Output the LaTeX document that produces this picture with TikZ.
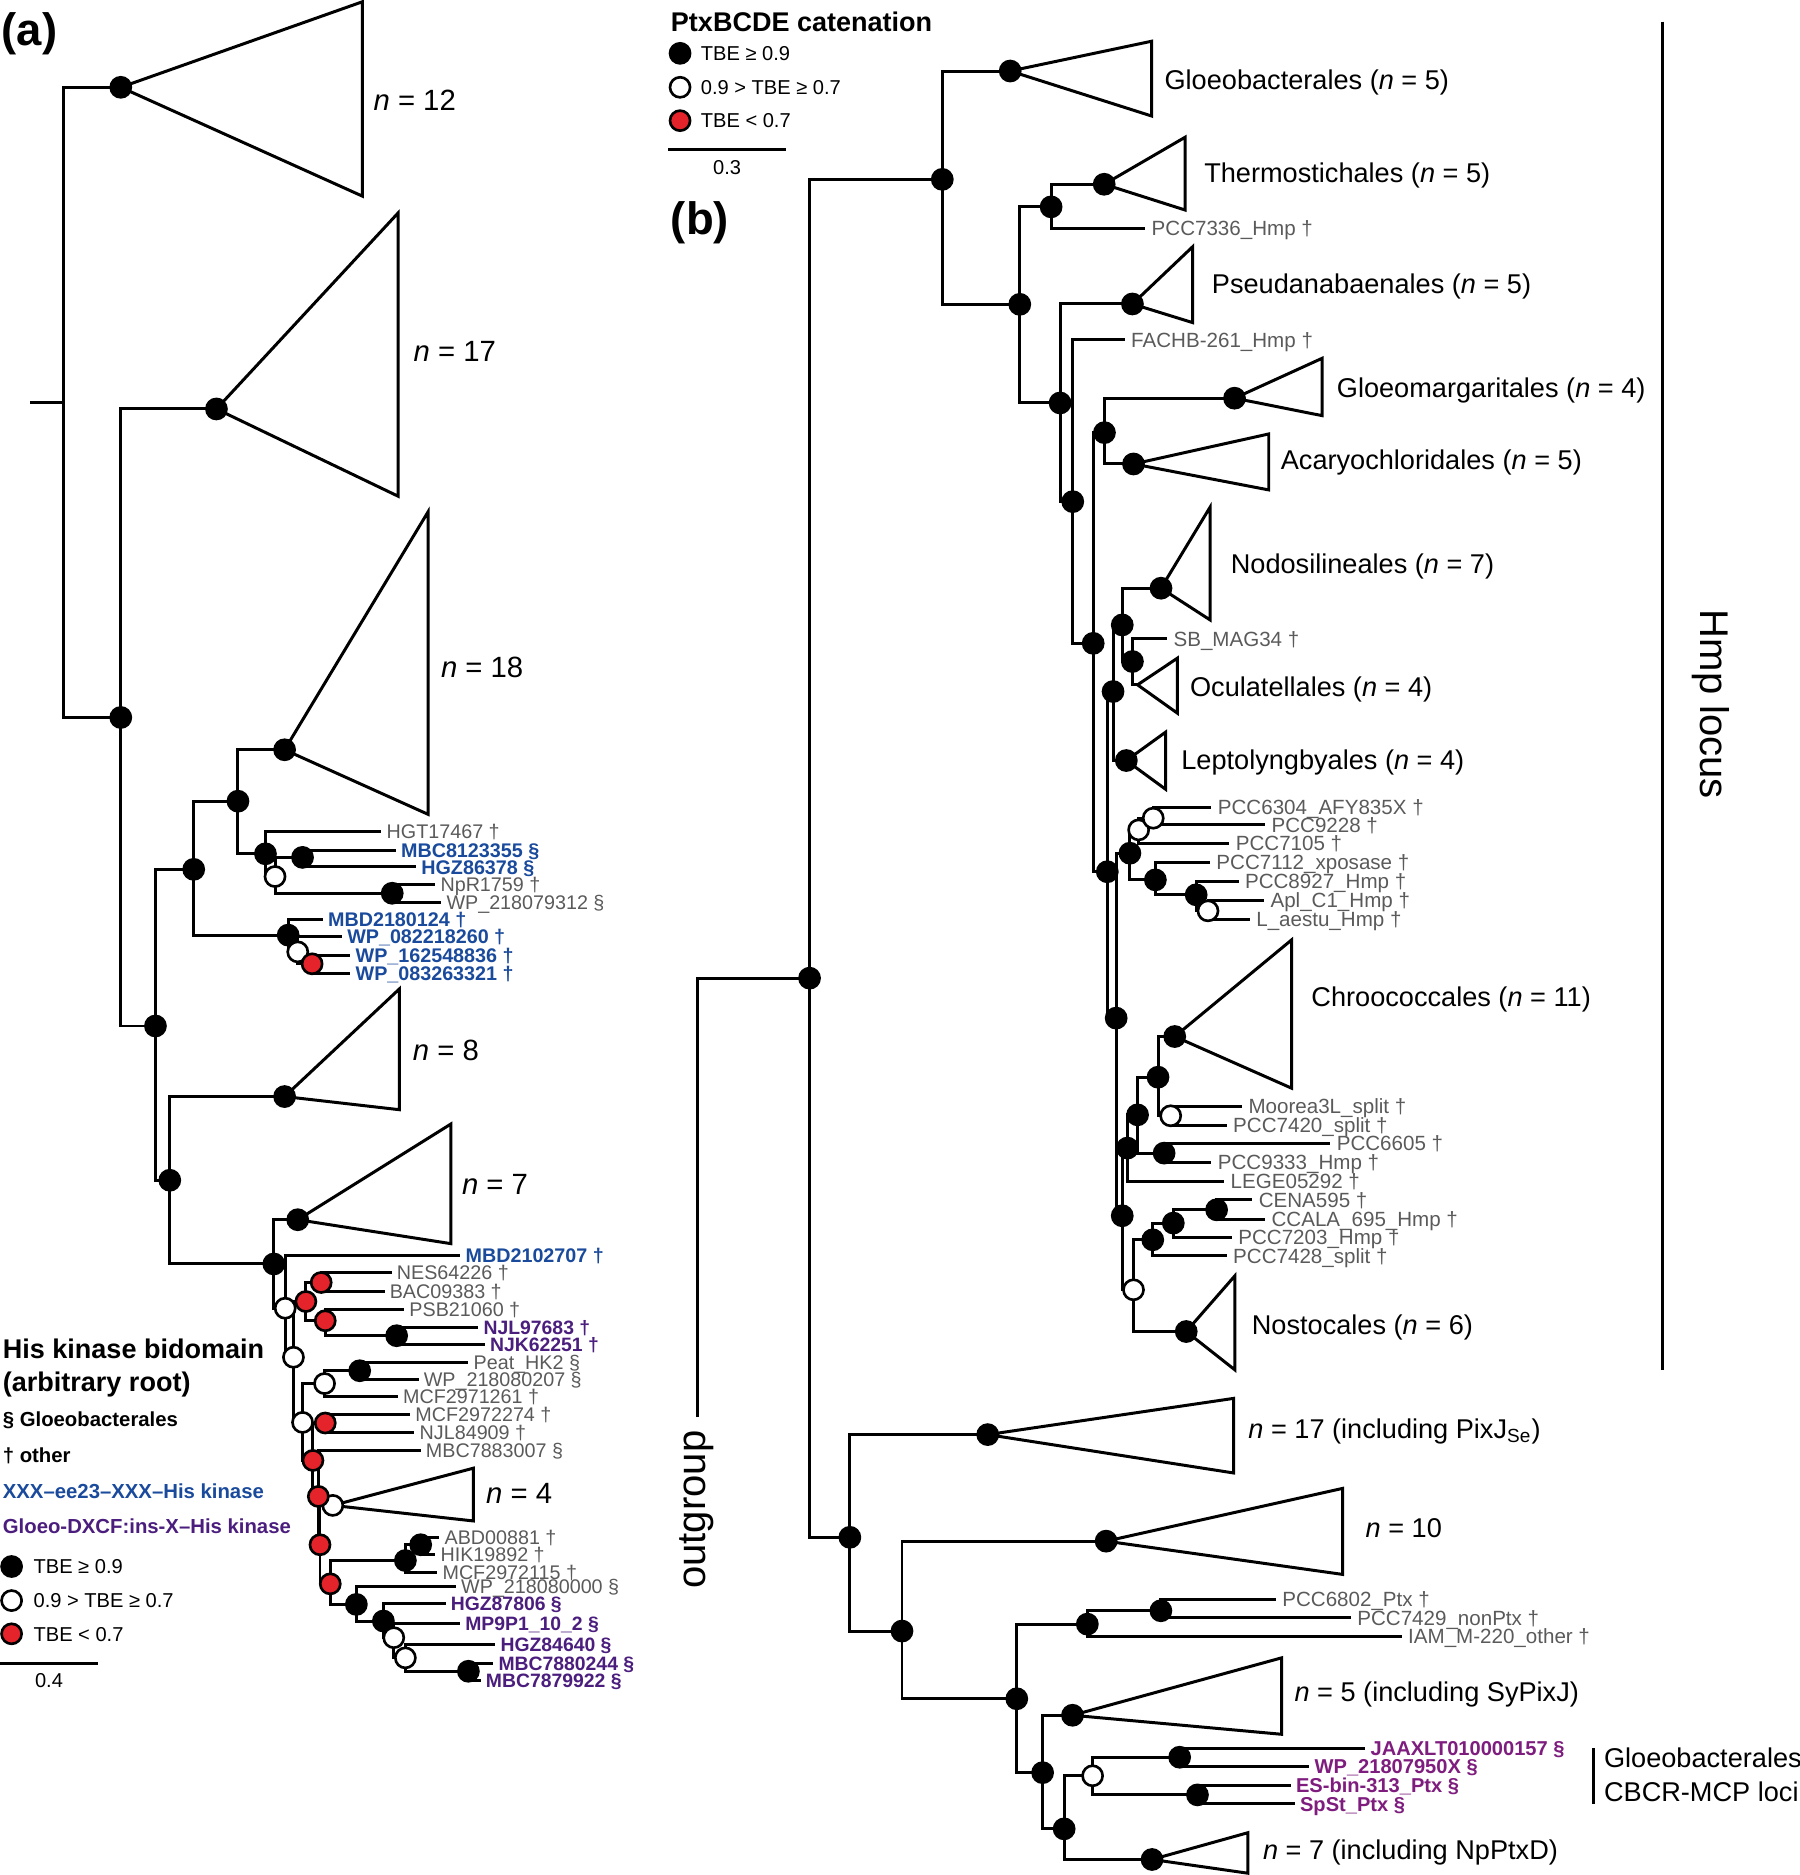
\documentclass[tikz,border=0pt]{standalone}
\usepackage{fontspec}
\setmainfont{Liberation Sans}
\definecolor{ablue}{HTML}{1A4A9C}
\definecolor{apurple}{HTML}{4B1E7E}
\definecolor{bpurple}{HTML}{7E1D7E}
\definecolor{tgray}{HTML}{5A5A5A}
\definecolor{tred}{HTML}{E4232A}
\newcommand{\tnode}[4]{\coordinate (#2) at (#3,#4); \draw[br] (#1) |- (#2);}
\newcommand{\tleaf}[6]{\coordinate (#2) at (#3,#4); \draw[br] (#1) |- (#2); \node[#5] (#2L) at (#2) {#6};}
\newcommand{\ttri}[4]{\draw[br] (#1) -- (#2,#3) -- (#2,#4) -- cycle;}
\begin{document}
\begin{tikzpicture}[x=0.5pt,y=-0.5pt,
  br/.style={line width=1.25pt, line join=miter},
  dotb/.style={circle, draw=black, fill=black, line width=1.1pt, minimum size=8.4pt, inner sep=0pt},
  dotw/.style={dotb, fill=white},
  dotr/.style={dotb, fill=tred},
  ga/.style={anchor=base west, inner sep=0pt, text depth=0.5pt, xshift=2pt, yshift=-2.95pt, font=\fontsize{8.25}{9}\selectfont, text=tgray},
  ba/.style={ga, font=\bfseries\fontsize{8.25}{9}\selectfont, text=ablue},
  pa/.style={ga, font=\bfseries\fontsize{8.1}{9}\selectfont, text=apurple},
  gb/.style={anchor=base west, inner sep=0pt, text depth=0.5pt, xshift=2.5pt, yshift=-3.08pt, font=\fontsize{8.6}{9}\selectfont, text=tgray},
  pb/.style={anchor=base west, inner sep=0pt, text depth=0.5pt, xshift=2pt, yshift=-3pt, font=\bfseries\fontsize{8.4}{9}\selectfont, text=bpurple},
  na/.style={anchor=base west, inner sep=0pt, yshift=-4.39pt, font=\fontsize{12.25}{14}\selectfont},
  cb/.style={anchor=base west, inner sep=0pt, yshift=-4.06pt, font=\fontsize{11.35}{13}\selectfont},
  lg/.style={anchor=base west, inner sep=0pt, yshift=-3pt, font=\fontsize{8.4}{10}\selectfont},
  ttl/.style={anchor=base west, inner sep=0pt, font=\bfseries\fontsize{11.3}{13}\selectfont},
  sub/.style={anchor=base west, inner sep=0pt, font=\bfseries\fontsize{8.5}{10}\selectfont},
  pan/.style={anchor=base west, inner sep=0pt, font=\bfseries\fontsize{19}{21}\selectfont},
  big/.style={inner sep=0pt, font=\fontsize{16.75}{18}\selectfont}
]
\useasboundingbox (0,0) rectangle (1505,1568);
% ================= Panel (a) =================
\node[pan] (lblA) at (1,38) {(a)};
\coordinate (aStub) at (25,337);
\coordinate (aR) at (53,337);
\draw[br] (aStub) -- (aR);
\tnode{aR}{a1}{101}{73}
\ttri{a1}{303}{1.5}{164}
\node[na] (n12) at (312,84) {\textit{n} = 12};
\tnode{aR}{A1}{101}{600}
\tnode{A1}{a2}{181}{342}
\ttri{a2}{333}{178}{415}
\node[na] (n17) at (345.6,293.3) {\textit{n} = 17};
\tnode{A1}{B}{130}{858}
\tnode{B}{C}{162}{727}
\tnode{C}{a3}{199}{670}
\tnode{a3}{a4}{238}{627}
\ttri{a4}{358}{428}{681}
\node[na] (n18) at (368.4,558.1) {\textit{n} = 18};
\tnode{a3}{D1}{222}{714}
\tleaf{D1}{tHGT}{319}{695}{ga}{HGT17467 †}
\tnode{D1}{W1}{230}{733}
\tnode{W1}{D2}{253}{717}
\tleaf{D2}{tMBCa}{331}{711}{ba}{MBC8123355 §}
\tleaf{D2}{tHGZa}{348}{725}{ba}{HGZ86378 §}
\tnode{W1}{D3}{328}{747}
\tleaf{D3}{tNpR}{364}{740}{ga}{NpR1759 †}
\tleaf{D3}{tWPa}{369}{755}{ga}{WP\_218079312 §}
\tnode{C}{D4}{241}{782}
\tleaf{D4}{tMBDa}{270}{769}{ba}{MBD2180124 †}
\tnode{D4}{W2}{249}{796}
\tleaf{W2}{tWPb}{286}{783}{ba}{WP\_082218260 †}
\tnode{W2}{R1}{261}{806}
\tleaf{R1}{tWPc}{293}{799}{ba}{WP\_162548836 †}
\tleaf{R1}{tWPd}{293}{814}{ba}{WP\_083263321 †}
\tnode{B}{E}{142}{987}
\tnode{E}{a5}{238}{917}
\ttri{a5}{334}{827}{928}
\node[na] (n8) at (344.9,877.9) {\textit{n} = 8};
\tnode{E}{F}{229}{1057}
\tnode{F}{a6}{249}{1020}
\ttri{a6}{377}{940}{1040}
\node[na] (n7) at (386,990) {\textit{n} = 7};
\tnode{F}{W3}{238.5}{1094}
\tleaf{W3}{tMBDb}{385}{1049.6}{ba}{MBD2102707 †}
\tnode{W3}{W4}{245.4}{1135}
\tnode{W4}{R2}{255.8}{1088.4}
\tnode{R2}{R3}{268.6}{1072.5}
\tleaf{R3}{tNES}{327.5}{1064.5}{ga}{NES64226 †}
\tleaf{R3}{tBAC}{321.6}{1079.9}{ga}{BAC09383 †}
\tnode{R2}{R4}{272}{1104.5}
\tleaf{R4}{tPSB}{338}{1095.3}{ga}{PSB21060 †}
\tnode{R4}{D5}{331.7}{1117}
\tleaf{D5}{tNJLa}{400}{1109.8}{pa}{NJL97683 †}
\tleaf{D5}{tNJK}{405.5}{1124.6}{pa}{NJK62251 †}
\tnode{W4}{W5}{253}{1189.5}
\tnode{W5}{W6}{271.4}{1157}
\tnode{W6}{D6}{300.8}{1146.3}
\tleaf{D6}{tPeat}{391.7}{1139.3}{ga}{Peat\_HK2 §}
\tleaf{D6}{tWPe}{350}{1153.8}{ga}{WP\_218080207 §}
\tleaf{W6}{tMCFa}{332.7}{1167.6}{ga}{MCF2971261 †}
\tnode{W5}{R6}{261.7}{1221.3}
\tnode{R6}{R5}{272}{1190}
\tleaf{R5}{tMCFb}{343}{1183.1}{ga}{MCF2972274 †}
\tleaf{R5}{tNJLb}{346.6}{1197.9}{ga}{NJL84909 †}
\tnode{R6}{R7}{266.2}{1251.4}
\tleaf{R7}{tMBCb}{351.8}{1212.8}{ga}{MBC7883007 §}
\tnode{R7}{R8}{267.6}{1291.8}
\tnode{R8}{W7}{278.3}{1258.9}
\ttri{W7}{395.8}{1227.8}{1271.9}
\node[na] (n4) at (406.2,1248.6) {\textit{n} = 4};
\tnode{R8}{R9}{276.2}{1324.5}
\tnode{R9}{D7}{339}{1305}
\tnode{D7}{D8}{351.8}{1291.8}
\tleaf{D8}{tABD}{367.4}{1285.4}{ga}{ABD00881 †}
\tleaf{D8}{tHIK}{364}{1300.2}{ga}{HIK19892 †}
\tleaf{D7}{tMCFc}{365.7}{1314.7}{ga}{MCF2972115 †}
\tnode{R9}{D9}{298}{1341.7}
\tleaf{D9}{tWPf}{381.3}{1326.9}{ga}{WP\_218080000 §}
\tnode{D9}{D10}{320.6}{1355.6}
\tleaf{D10}{tHGZb}{372.6}{1340.8}{pa}{HGZ87806 §}
\tnode{D10}{W8}{329.3}{1369.5}
\tleaf{W8}{tMP9}{384.7}{1357.6}{pa}{MP9P1\_10\_2 §}
\tnode{W8}{W9}{339}{1386.4}
\tleaf{W9}{tHGZc}{414.2}{1375.3}{pa}{HGZ84640 §}
\tnode{W9}{D11}{391.7}{1397.6}
\tleaf{D11}{tMBCc}{412.5}{1390.8}{pa}{MBC7880244 §}
\tleaf{D11}{tMBCd}{402}{1405.2}{pa}{MBC7879922 §}
% legend (a)
\node[ttl] (hk1) at (2,1135.7) {His kinase bidomain};
\node[ttl] (hk2) at (2,1163.6) {(arbitrary root)};
\node[sub] (s1) at (2,1192.9) {§ Gloeobacterales};
\node[sub] (s2) at (2,1223) {† other};
\node[sub, text=ablue] (s3) at (2,1252.8) {XXX–ee23–XXX–His kinase};
\node[sub, text=apurple] (s4) at (2,1282) {Gloeo-DXCF:ins-X–His kinase};
\node[dotb] (lgA1) at (9.7,1310) {};
\node[dotw] (lgA2) at (9.7,1338.5) {};
\node[dotr] (lgA3) at (9.7,1366.3) {};
\node[lg] (lgA1t) at (27.7,1310) {TBE ≥ 0.9};
\node[lg] (lgA2t) at (27.7,1338.5) {0.9 > TBE ≥ 0.7};
\node[lg] (lgA3t) at (27.7,1366.3) {TBE < 0.7};
\coordinate (sbA1) at (0,1391.3); \coordinate (sbA2) at (82,1391.3);
\draw[br] (sbA1) -- (sbA2);
\node[anchor=base, inner sep=0pt, font=\fontsize{8.4}{10}\selectfont] (sbAt) at (41,1411.5) {0.4};
% ================= Panel (b) =================
\node[ttl] (ptx) at (560.7,26.5) {PtxBCDE catenation};
\node[dotb] (lgB1) at (568.7,44.6) {};
\node[dotw] (lgB2) at (568.7,73) {};
\node[dotr] (lgB3) at (568.7,100.9) {};
\node[lg] (lgB1t) at (585.7,44.6) {TBE ≥ 0.9};
\node[lg] (lgB2t) at (585.7,73) {0.9 > TBE ≥ 0.7};
\node[lg] (lgB3t) at (585.7,100.9) {TBE < 0.7};
\coordinate (sbB1) at (559,125.4); \coordinate (sbB2) at (657.3,125.4);
\draw[br] (sbB1) -- (sbB2);
\node[anchor=base, inner sep=0pt, font=\fontsize{8.4}{10}\selectfont] (sbBt) at (608,146.3) {0.3};
\node[pan] (lblB) at (560.7,196) {(b)};
\coordinate (og) at (583,818); \coordinate (ogEnd) at (583,1185);
\coordinate (R0) at (677,818);
\draw[br] (ogEnd) -- (og) -- (R0);
\node[big, rotate=90, anchor=east] (ogt) at (583,1196) {outgroup};
\tnode{R0}{P1}{788}{150}
\tnode{P1}{g1}{844.8}{59.4}
\ttri{g1}{963}{34.5}{97}
\node[cb] (cg1) at (973.5,66.9) {Gloeobacterales (\textit{n} = 5)};
\tnode{P1}{P2}{852.8}{254.5}
\tnode{P2}{P3}{879}{173}
\tnode{P3}{th}{923.4}{154.1}
\ttri{th}{991}{114.8}{175.6}
\node[cb] (cth) at (1006.7,144.1) {Thermostichales (\textit{n} = 5)};
\tleaf{P3}{tPCC7336}{957.7}{190.9}{gb}{PCC7336\_Hmp †}
\tnode{P2}{P4}{886.5}{337}
\tnode{P4}{ps}{947}{254.2}
\ttri{ps}{997.4}{206.3}{269.8}
\node[cb] (cps) at (1013.1,237.5) {Pseudanabaenales (\textit{n} = 5)};
\tnode{P4}{P5}{897.1}{419.5}
\tleaf{P5}{tFACHB}{940.6}{284.3}{gb}{FACHB-261\_Hmp †}
\tnode{P5}{P8}{914.2}{538}
\tnode{P8}{P6}{923.6}{361.8}
\tnode{P6}{gm}{1032.4}{333}
\ttri{gm}{1105.7}{299.6}{347.6}
\node[cb] (cgm) at (1117.6,324.7) {Gloeomargaritales (\textit{n} = 4)};
\tnode{P6}{ac}{947.9}{388}
\ttri{ac}{1061}{362.9}{409.7}
\node[cb] (cac) at (1070.7,384.6) {Acaryochloridales (\textit{n} = 5)};
\tnode{P8}{P9}{926}{729}
\tnode{P9}{P12}{930.8}{578.3}
\tnode{P12}{P10}{938.5}{522.6}
\tnode{P10}{no}{970.9}{491.9}
\ttri{no}{1011.9}{424.2}{518.4}
\node[cb] (cno) at (1028.9,471.6) {Nodosilineales (\textit{n} = 7)};
\tnode{P10}{P11}{947}{553.2}
\tleaf{P11}{tSB}{976}{534.3}{gb}{SB\_MAG34 †}
\tnode{P11}{oc}{951.3}{572.7}
\ttri{oc}{984.6}{550.4}{596.4}
\node[cb] (coc) at (994.8,574.2) {Oculatellales (\textit{n} = 4)};
\tnode{P12}{le}{941.9}{636}
\ttri{le}{974.7}{612.3}{660}
\node[cb] (cle) at (987.5,635.5) {Leptolyngbyales (\textit{n} = 4)};
\tnode{P9}{Q1}{933.4}{851.4}
\tnode{Q1}{P13}{944.9}{713.5}
\tnode{P13}{W14}{952.2}{694}
\tnode{W14}{W13}{964.4}{684.2}
\tleaf{W13}{tPCC6304}{1013.1}{675}{gb}{PCC6304\_AFY835X †}
\tleaf{W13}{tPCC9228}{1058}{689.8}{gb}{PCC9228 †}
\tleaf{W14}{tPCC7105}{1028.1}{705.1}{gb}{PCC7105 †}
\tnode{P13}{P14}{966.2}{735.8}
\tleaf{P14}{tPCC7112}{1011.9}{721.3}{gb}{PCC7112\_xposase †}
\tnode{P14}{Dap}{1000.3}{748.3}
\tleaf{Dap}{tPCC8927}{1035.8}{737.2}{gb}{PCC8927\_Hmp †}
\tnode{Dap}{W15}{1010.2}{761.7}
\tleaf{W15}{tApl}{1057.1}{753.1}{gb}{Apl\_C1\_Hmp †}
\tleaf{W15}{tLae}{1045.2}{768.7}{gb}{L\_aestu\_Hmp †}
\tnode{Q1}{Q6}{938.5}{1016.7}
\tnode{Q6}{Q4}{942.8}{960.1}
\tnode{Q4}{Q3}{951.3}{932.3}
\tnode{Q3}{Q2}{968.4}{900.8}
\tnode{Q2}{ch}{982.4}{866.8}
\ttri{ch}{1080.1}{786}{910}
\node[cb] (cch) at (1096.3,833.9) {Chroococcales (\textit{n} = 11)};
\tnode{Q2}{W11}{979}{933.1}
\tleaf{W11}{tMoorea}{1038.7}{925.3}{gb}{Moorea3L\_split †}
\tleaf{W11}{tPCC7420}{1025.9}{941.2}{gb}{PCC7420\_split †}
\tnode{Q3}{Q5}{973.5}{964.3}
\tleaf{Q5}{tPCC6605}{1112.5}{956}{gb}{PCC6605 †}
\tleaf{Q5}{tPCC9333}{1013.1}{972.1}{gb}{PCC9333\_Hmp †}
\tleaf{Q4}{tLEGE}{1023.8}{988}{gb}{LEGE05292 †}
\tnode{Q6}{W12}{947.9}{1078.6}
\tnode{W12}{Q7}{964}{1036.8}
\tnode{Q7}{Q8}{981.2}{1022.8}
\tnode{Q8}{Q9}{1017.4}{1011.7}
\tleaf{Q9}{tCENA}{1047.3}{1003.3}{gb}{CENA595 †}
\tleaf{Q9}{tCCALA}{1058}{1019.5}{gb}{CCALA\_695\_Hmp †}
\tleaf{Q8}{tPCC7203}{1030.2}{1034.5}{gb}{PCC7203\_Hmp †}
\tleaf{Q7}{tPCC7428}{1025.9}{1050.2}{gb}{PCC7428\_split †}
\tnode{W12}{ns}{992}{1113.5}
\ttri{ns}{1032.6}{1067}{1145.5}
\node[cb] (cns) at (1046.5,1107.9) {Nostocales (\textit{n} = 6)};
\tnode{R0}{O1}{710.7}{1285.6}
\tnode{O1}{o17}{826}{1199.7}
\ttri{o17}{1031.7}{1169.4}{1231.8}
\node[cb] (co17) at (1043.6,1195) {\textit{n} = 17 (including PixJ\textsubscript{Se})};
\tnode{O1}{O2}{754.3}{1364}
\tnode{O2}{o10}{925}{1288.8}
\ttri{o10}{1122.7}{1244.7}{1316.6}
\node[cb] (co10) at (1141.7,1277.6) {\textit{n} = 10};
\tnode{O2}{O3}{850.3}{1420.6}
\tnode{O3}{O4}{909.3}{1358.2}
\tnode{O4}{O5}{970.8}{1347}
\tleaf{O5}{tPCC6802}{1067}{1337.2}{gb}{PCC6802\_Ptx †}
\tleaf{O5}{tPCC7429}{1129.7}{1352.8}{gb}{PCC7429\_nonPtx †}
\tleaf{O4}{tIAM}{1172.2}{1368.5}{gb}{IAM\_M-220\_other †}
\tnode{O3}{O6}{871.9}{1482.4}
\tnode{O6}{o5}{896.9}{1434.4}
\ttri{o5}{1071.7}{1386.4}{1450.3}
\node[cb] (co5) at (1082.2,1414.4) {\textit{n} = 5 (including SyPixJ)};
\tnode{O6}{O7}{889.9}{1529.4}
\tnode{O7}{W10}{913.7}{1485}
\tnode{W10}{D12}{986.5}{1469.5}
\tleaf{D12}{tJAAX}{1141.8}{1461.8}{pb}{JAAXLT010000157 §}
\tleaf{D12}{tWPg}{1095}{1477.2}{pb}{WP\_21807950X §}
\tnode{W10}{D13}{1001.4}{1501}
\tleaf{D13}{tES}{1079.4}{1493.3}{pb}{ES-bin-313\_Ptx §}
\tleaf{D13}{tSpSt}{1082.8}{1508.6}{pb}{SpSt\_Ptx §}
\tnode{O7}{o7}{963.4}{1555}
\ttri{o7}{1043.6}{1532.6}{1566.5}
\node[cb] (co7) at (1055.8,1546.8) {\textit{n} = 7 (including NpPtxD)};
% brackets
\coordinate (gbTop) at (1332.4,1461.8); \coordinate (gbBot) at (1332.4,1509);
\draw[line width=1.25pt] (gbTop) -- (gbBot);
\node[cb] (gbt1) at (1341,1470) {Gloeobacterales};
\node[cb] (gbt2) at (1341,1498) {CBCR-MCP loci};
\coordinate (hmpTop) at (1390,18); \coordinate (hmpBot) at (1390,1145.5);
\draw[line width=1.25pt] (hmpTop) -- (hmpBot);
\node[big, rotate=-90] (hmpt) at (1431,589) {Hmp locus};
% dots
\foreach \n in {a1,A1,a2,B,C,a3,a4,D1,D2,D3,D4,E,a5,F,a6,D5,D6,D7,D8,D9,D10,D11,
  R0,P1,g1,P2,P3,th,P4,ps,P5,P8,P6,gm,ac,P9,P12,P10,no,P11,le,Q1,P13,P14,Dap,Q6,Q4,Q3,Q2,ch,Q5,Q7,Q8,Q9,ns,
  O1,o17,O2,o10,O3,O4,O5,O6,o5,O7,D12,D13,o7}
  \node[dotb] at (\n) {};
\foreach \n in {W1,W2,W3,W4,W5,W6,W7,W8,W9,W14,W13,W15,W11,W12,W10}
  \node[dotw] at (\n) {};
\foreach \n in {R1,R2,R3,R4,R5,R6,R7,R8,R9}
  \node[dotr] at (\n) {};
\end{tikzpicture}
\end{document}
